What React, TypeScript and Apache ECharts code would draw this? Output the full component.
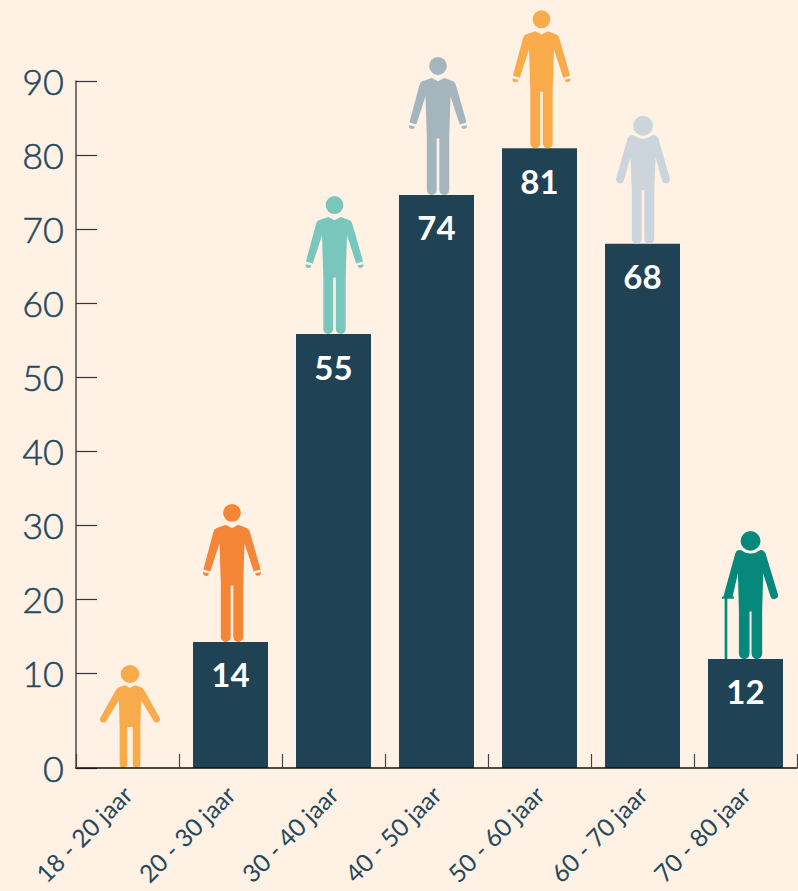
import React, { useEffect, useRef } from "react";
import * as echarts from "echarts";

const categories = ["18 - 20 jaar", "20 - 30 jaar", "30 - 40 jaar", "40 - 50 jaar", "50 - 60 jaar", "60 - 70 jaar", "70 - 80 jaar"];
const barHeights = [null, 14.2, 55.8, 74.6, 80.9, 68, 11.9];
const printedValues = ["", "14", "55", "74", "81", "68", "12"];
// The reference stretches the first interval: its "0" sits lower than a linear 0
const axisBase = 90 - 687 / 7.4;
const axisMax = 90;
const tickValues = [axisBase, 10, 20, 30, 40, 50, 60, 70, 80, 90];
// Foot of each bar, below the linear zero, down to the printed "0" baseline
const barFeet = barHeights.map((h) => (h === null ? null : axisBase));

const INK = "#24495D";
const BAR = "#1F4254";
const BG = "#FFF2E5";

const suit =
  "M97 54a27 27 0 1 0 54 0a27 27 0 1 0 -54 0Z" +
  "M105 90L124 100L143 90L170 100Q176 103 178 110L211 224L190 230L162 145L158 270L158 427A15 15 0 0 1 128 427L128 272L120 272L120 427A15 15 0 0 1 90 427L90 270L86 145L58 230L37 224L68 110Q70 103 76 100Z" +
  "M36 232L54 236A9 9 0 0 1 36 232Z" +
  "M212 232L194 236A9 9 0 0 0 212 232Z";
const casual =
  "M93 56a27 27 0 1 0 54 0a27 27 0 1 0 -54 0Z" +
  "M106 90L120 98L134 90L152 96Q158 99 162 106L206 188A10 10 0 0 1 190 199L152 135L150 215L150 327A11 11 0 0 1 128 327L128 215L112 215L112 327A11 11 0 0 1 90 327L90 215L88 135L50 199A10 10 0 0 1 34 188L78 106Q82 99 88 96Z";
const elder =
  "M100 62a30 30 0 1 0 60 0a30 30 0 1 0 -60 0Z" +
  "M100 90Q130 112 160 90L168 91Q175 94 177 101L211 219A12 12 0 0 1 188 227L168 158L164 255L164 402A15 15 0 0 1 134 402L134 255L126 255L126 402A15 15 0 0 1 96 402L96 255L92 158L72 227A12 12 0 0 1 49 219L83 101Q85 94 92 91Z";
const cane =
  "M120 63a30 30 0 1 0 60 0a30 30 0 1 0 -60 0Z" +
  "M120 90Q150 112 180 90L186 91Q192 94 195 100L232 222A11 11 0 0 1 210 230L188 160L185 275L185 402A16 16 0 0 1 153 402L153 275L147 275L147 402A16 16 0 0 1 115 402L115 275L112 160L96 230L100 230L100 237L80 237L80 418L72 418L72 237L64 237L64 231L68 231L104 101Q106 94 112 91Z";

const people = [
  { path: casual, size: [60, 103], shift: 2.5, color: "#F9AB4B" },
  { path: suit, size: [58, 138], shift: 1.5, color: "#F58638" },
  { path: suit, size: [58, 138], shift: 1, color: "#79C7BC" },
  { path: suit, size: [58, 138], shift: 1.5, color: "#A5B5BE" },
  { path: suit, size: [58, 138], shift: 2, color: "#F9AB4B" },
  { path: elder, size: [54, 128], shift: 0.5, color: "#CDD5DC" },
  { path: cane, size: [56, 128], shift: 4.5, color: "#07887C" },
];

export default function App() {
  const ref = useRef<HTMLDivElement>(null);
  useEffect(() => {
    document.body.style.margin = "0";
    document.body.style.background = BG;
    const chart = echarts.init(ref.current!, null, { renderer: "svg" });
    chart.setOption({
      animation: false,
      backgroundColor: BG,
      textStyle: { fontFamily: "Lato" },
      grid: { left: 76, top: 81, width: 721, height: 687, containLabel: false },
      xAxis: {
        type: "category",
        data: categories,
        z: 5,
        axisLine: { show: true, onZero: false, lineStyle: { color: "#111111", width: 1.5 } },
        axisTick: { show: true, inside: true, length: 14, alignWithLabel: false, lineStyle: { color: "#444444", width: 1.2 } },
        axisLabel: { rotate: 45, interval: 0, margin: 22, fontSize: 24.5, color: INK, fontFamily: "Lato" },
      },
      yAxis: {
        type: "value",
        min: axisBase,
        max: axisMax,
        splitLine: { show: false },
        axisLine: { show: true, onZero: false, lineStyle: { color: "#4A4A4A", width: 1.5 } },
        axisTick: { show: true, inside: true, length: 21, customValues: tickValues, lineStyle: { color: "#333333", width: 1.2 } },
        axisLabel: {
          customValues: tickValues,
          margin: 12,
          fontSize: 36,
          fontWeight: 300,
          fontFamily: "Lato",
          color: INK,
          textBorderColor: INK,
          textBorderWidth: 0.5,
          formatter: (v: number) => (v < 0 ? "0" : String(v)),
        },
      },
      series: [
        {
          type: "bar",
          stack: "bars",
          barWidth: 75,
          itemStyle: { color: BAR },
          label: {
            show: true,
            position: "insideTop",
            distance: 16,
            color: "#FFFFFF",
            fontSize: 33,
            fontWeight: 700,
            fontFamily: "Lato",
            formatter: (p: any) => printedValues[p.dataIndex],
          },
          data: barHeights,
        },
        {
          type: "bar",
          stack: "bars",
          barWidth: 75,
          itemStyle: { color: BAR },
          data: barFeet,
        },
        {
          type: "scatter",
          clip: false,
          z: 3,
          silent: true,
          data: people.map((p, i) => ({
            value: [i, barHeights[i] ?? axisBase],
            symbol: "path://" + p.path,
            symbolSize: p.size,
            symbolKeepAspect: false,
            symbolOffset: [p.shift, "-50%"],
            itemStyle: { color: p.color, opacity: 1 },
          })),
        },
      ],
    });
    return () => chart.dispose();
  }, []);
  return <div ref={ref} style={{ width: 798, height: 891, position: "absolute", left: 0, top: 0 }} />;
}
